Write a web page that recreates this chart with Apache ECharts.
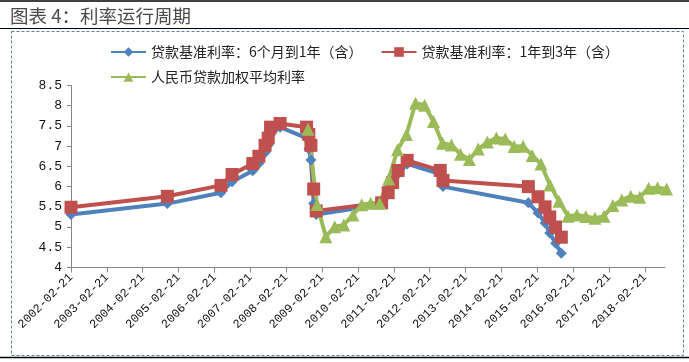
<!DOCTYPE html>
<html>
<head>
<meta charset="utf-8">
<script src="https://cdn.jsdelivr.net/npm/echarts@6/dist/echarts.min.js"></script>
<style>
html,body{margin:0;padding:0;background:#fff;}
#c{width:689px;height:362px;}
</style>
</head>
<body>
<div id="c"></div>
<script>
// ---- data ----
const titleText = '图表 4：利率运行周期';
const seriesNames = ['贷款基准利率：6个月到1年（含）', '贷款基准利率：1年到3年（含）', '人民币贷款加权平均利率'];
const tickLabels = ['2002-02-21','2003-02-21','2004-02-21','2005-02-21','2006-02-21','2007-02-21','2008-02-21','2009-02-21','2010-02-21','2011-02-21','2012-02-21','2013-02-21','2014-02-21','2015-02-21','2016-02-21','2017-02-21','2018-02-21'];
const yTicks = [4, 4.5, 5, 5.5, 6, 6.5, 7, 7.5, 8, 8.5];

const rateDates = ['2002-02-21','2004-10-29','2006-04-28','2006-08-19','2007-03-18','2007-05-19','2007-07-21','2007-08-22','2007-09-15','2007-12-21','2008-09-16','2008-10-09','2008-10-30','2008-11-27','2008-12-23','2010-10-20','2010-12-26','2011-02-09','2011-04-06','2011-07-07','2012-06-08','2012-07-06','2014-11-22','2015-03-01','2015-05-11','2015-06-28','2015-08-26','2015-10-24'];
const shortRate = [5.31,5.58,5.85,6.12,6.39,6.57,6.84,7.02,7.29,7.47,7.20,6.93,6.66,5.58,5.31,5.56,5.81,6.06,6.31,6.56,6.31,6.00,5.60,5.35,5.10,4.85,4.60,4.35];
const midRate   = [5.49,5.76,6.03,6.30,6.57,6.75,7.02,7.20,7.47,7.56,7.47,7.29,7.02,5.94,5.40,5.60,5.85,6.10,6.40,6.65,6.40,6.15,6.00,5.75,5.50,5.25,5.00,4.75];

const avgDates = ['2008-09-30','2008-12-31','2009-03-31','2009-06-30','2009-09-30','2009-12-31','2010-03-31','2010-06-30','2010-09-30','2010-12-31','2011-03-31','2011-06-30','2011-09-30','2011-12-31','2012-03-31','2012-06-30','2012-09-30','2012-12-31','2013-03-31','2013-06-30','2013-09-30','2013-12-31','2014-03-31','2014-06-30','2014-09-30','2014-12-31','2015-03-31','2015-06-30','2015-09-30','2015-12-31','2016-03-31','2016-06-30','2016-09-30','2016-12-31','2017-03-31','2017-06-30','2017-09-30','2017-12-31','2018-03-31','2018-06-30','2018-09-30'];
const avgRate = [7.42,5.56,4.76,5.01,5.05,5.30,5.55,5.59,5.59,6.19,6.91,7.29,8.06,8.01,7.61,7.07,7.03,6.80,6.67,6.93,7.10,7.20,7.18,6.99,7.00,6.77,6.56,6.04,5.64,5.27,5.30,5.26,5.22,5.27,5.53,5.67,5.76,5.74,5.96,5.97,5.94];

// ---- helpers ----
const base = Date.parse('2002-02-21T00:00:00Z');
function toYears(d){ return (Date.parse(d + 'T00:00:00Z') - base) / (365.25 * 86400000); }
function pairs(dates, vals){ return dates.map((d,i)=>[toYears(d), vals[i]]); }
const xTickVals = tickLabels.map((_, i) => i);

const chart = echarts.init(document.getElementById('c'), null, {renderer:'canvas'});
const blue = '#4F81BD', red = '#C0504D', green = '#9BBB59';
const labelFont = '"Liberation Mono", monospace';

chart.setOption({
  animation: false,
  backgroundColor: '#fff',
  graphic: [
    {type:'line', shape:{x1:0,y1:1,x2:689,y2:1}, style:{stroke:'#000', lineWidth:1.5}},
    {type:'line', shape:{x1:0,y1:28.5,x2:689,y2:28.5}, style:{stroke:'#000', lineWidth:1}},
    {type:'line', shape:{x1:0,y1:357.5,x2:689,y2:357.5}, style:{stroke:'#000', lineWidth:1.5}},
    {type:'rect', shape:{x:11.5,y:31.5,width:672,height:324}, style:{fill:'none', stroke:'#5a7fa8', lineWidth:1, lineDash:[3,2]}},
    {type:'text', left:10, top:7, style:{text:titleText, font:'18.5px "Noto Sans CJK SC"', fill:'#4a4a4a'}}
  ],
  legend: [
    {data:[seriesNames[0], seriesNames[1]], left:105, top:40, itemWidth:35, itemHeight:12, itemGap:18,
     textStyle:{fontFamily:'"Noto Sans CJK SC"', fontSize:14, color:'#222'}},
    {data:[seriesNames[2]], left:105, top:65, itemWidth:35, itemHeight:12,
     textStyle:{fontFamily:'"Noto Sans CJK SC"', fontSize:14, color:'#222'}}
  ],
  grid: {left:71, top:85.5, width:594, height:182, containLabel:false},
  xAxis: {
    type:'value', min:0, max:16.56, interval:1,
    splitLine:{show:false},
    axisLine:{show:true, lineStyle:{color:'#868686', width:1}},
    axisTick:{show:true, length:5, customValues:xTickVals, lineStyle:{color:'#868686'}},
    axisLabel:{customValues:xTickVals, rotate:45, margin:8, fontFamily:labelFont, fontSize:12, color:'#111',
      formatter:function(v){ return tickLabels[Math.round(v)] || ''; }}
  },
  yAxis: {
    type:'value', min:4, max:8.5, interval:0.5,
    splitLine:{show:false},
    axisLine:{show:true, lineStyle:{color:'#868686', width:1}},
    axisTick:{show:true, length:4, lineStyle:{color:'#868686'}},
    axisLabel:{margin:9, fontFamily:labelFont, fontSize:13, color:'#111',
      formatter:function(v){ return yTicks.indexOf(v) >= 0 ? String(v) : ''; }}
  },
  series: [
    {name:seriesNames[0], type:'line', clip:false, data:pairs(rateDates, shortRate), symbol:'diamond', symbolSize:11,
     lineStyle:{color:blue, width:4}, itemStyle:{color:blue}},
    {name:seriesNames[1], type:'line', clip:false, data:pairs(rateDates, midRate), symbol:'rect', symbolSize:13,
     lineStyle:{color:red, width:4}, itemStyle:{color:red}},
    {name:seriesNames[2], type:'line', clip:false, data:pairs(avgDates, avgRate), symbol:'triangle', symbolSize:13,
     lineStyle:{color:green, width:4}, itemStyle:{color:green}}
  ]
});
</script>
</body>
</html>
